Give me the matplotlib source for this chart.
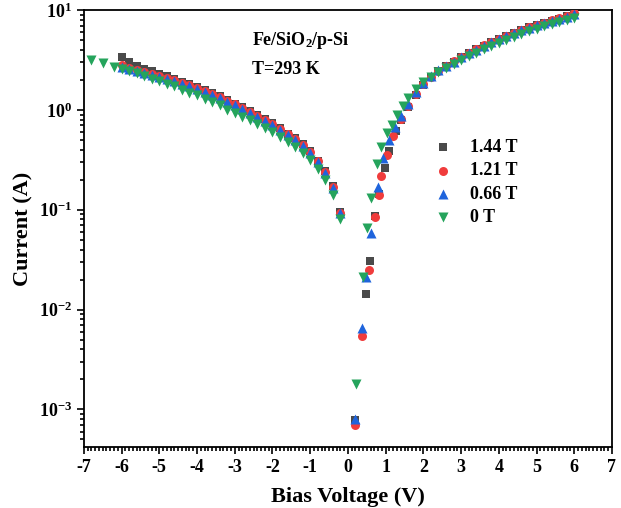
import matplotlib
matplotlib.use("Agg")
import matplotlib.pyplot as plt
from matplotlib.ticker import MultipleLocator, LogLocator, FixedLocator, FixedFormatter, NullFormatter

plt.rcParams['font.family'] = ['Liberation Serif', 'DejaVu Serif']
plt.rcParams['font.weight'] = 'bold'
plt.rcParams['mathtext.fontset'] = 'custom'
plt.rcParams['mathtext.rm'] = 'Liberation Serif:bold'
plt.rcParams['mathtext.it'] = 'Liberation Serif:bold'
plt.rcParams['mathtext.bf'] = 'Liberation Serif:bold'
plt.rcParams['axes.unicode_minus'] = False

# ---- data (V in volts, I in amperes) ----
v_144 = [-6.0, -5.8, -5.6, -5.4, -5.2, -5.0, -4.8, -4.6, -4.4, -4.2, -4.0, -3.8, -3.6, -3.4, -3.2,
         -3.0, -2.8, -2.6, -2.4, -2.2, -2.0, -1.8, -1.6, -1.4, -1.2, -1.0, -0.8, -0.6, -0.4, -0.2,
         0.2, 0.48, 0.58, 0.73, 0.82, 0.98, 1.09, 1.27,
         1.4, 1.6, 1.8, 2.0, 2.2, 2.4, 2.6, 2.8, 3.0, 3.2, 3.4, 3.6, 3.8, 4.0, 4.2, 4.4, 4.6, 4.8,
         5.0, 5.2, 5.4, 5.6, 5.8, 6.0]
i_144 = [3.40, 3.00, 2.78, 2.60, 2.45, 2.30, 2.17, 2.04, 1.92, 1.80, 1.69, 1.58, 1.48, 1.38, 1.26,
         1.16, 1.07, 0.98, 0.89, 0.81, 0.74, 0.66, 0.58, 0.52, 0.46, 0.39, 0.31, 0.245, 0.172, 0.095,
         7.8e-4, 0.0144, 0.031, 0.087, 0.145, 0.26, 0.385, 0.61,
         0.80, 1.07, 1.42, 1.78, 2.12, 2.45, 2.74, 3.05, 3.37, 3.70, 4.05, 4.42, 4.82, 5.18, 5.55, 5.94, 6.36, 6.75,
         7.12, 7.48, 7.84, 8.22, 8.70, 9.25]

v_121 = [-6.0, -5.8, -5.6, -5.4, -5.2, -5.0, -4.8, -4.6, -4.4, -4.2, -4.0, -3.8, -3.6, -3.4, -3.2,
         -3.0, -2.8, -2.6, -2.4, -2.2, -2.0, -1.8, -1.6, -1.4, -1.2, -1.0, -0.8, -0.6, -0.4, -0.2,
         0.2, 0.37, 0.56, 0.71, 0.82, 0.89, 1.03, 1.19,
         1.4, 1.6, 1.8, 2.0, 2.2, 2.4, 2.6, 2.8, 3.0, 3.2, 3.4, 3.6, 3.8, 4.0, 4.2, 4.4, 4.6, 4.8,
         5.0, 5.2, 5.4, 5.6, 5.8, 6.0]
i_121 = [2.80, 2.66, 2.52, 2.40, 2.29, 2.19, 2.09, 1.98, 1.87, 1.76, 1.66, 1.55, 1.45, 1.35, 1.23,
         1.14, 1.05, 0.96, 0.87, 0.80, 0.73, 0.65, 0.575, 0.51, 0.45, 0.38, 0.305, 0.24, 0.170, 0.092,
         7.0e-4, 0.0055, 0.025, 0.085, 0.14, 0.216, 0.35, 0.55,
         0.82, 1.10, 1.45, 1.80, 2.14, 2.47, 2.76, 3.07, 3.40, 3.73, 4.08, 4.45, 4.85, 5.20, 5.57, 5.96, 6.38, 6.78,
         7.15, 7.52, 7.88, 8.25, 8.74, 9.30]

v_066 = [-6.0, -5.8, -5.6, -5.4, -5.2, -5.0, -4.8, -4.6, -4.4, -4.2, -4.0, -3.8, -3.6, -3.4, -3.2,
         -3.0, -2.8, -2.6, -2.4, -2.2, -2.0, -1.8, -1.6, -1.4, -1.2, -1.0, -0.8, -0.6, -0.4, -0.2,
         0.2, 0.37, 0.48, 0.62, 0.79, 0.93, 1.09, 1.25,
         1.4, 1.6, 1.8, 2.0, 2.2, 2.4, 2.6, 2.8, 3.0, 3.2, 3.4, 3.6, 3.8, 4.0, 4.2, 4.4, 4.6, 4.8,
         5.0, 5.2, 5.4, 5.6, 5.8, 6.0]
i_066 = [2.69, 2.57, 2.45, 2.34, 2.24, 2.14, 2.04, 1.93, 1.82, 1.72, 1.62, 1.51, 1.41, 1.32, 1.20,
         1.11, 1.02, 0.93, 0.85, 0.78, 0.71, 0.63, 0.56, 0.50, 0.44, 0.37, 0.30, 0.234, 0.166, 0.093,
         8.0e-4, 0.0066, 0.021, 0.058, 0.17, 0.33, 0.50, 0.68,
         0.87, 1.15, 1.52, 1.88, 2.20, 2.50, 2.75, 3.05, 3.36, 3.68, 4.02, 4.40, 4.80, 5.15, 5.50, 5.89, 6.31, 6.70,
         7.05, 7.40, 7.76, 8.13, 8.60, 9.10]

v_0 = [-6.8, -6.5, -6.2, -6.0, -5.8, -5.6, -5.4, -5.2, -5.0, -4.8, -4.6, -4.4, -4.2, -4.0, -3.8, -3.6,
       -3.4, -3.2, -3.0, -2.8, -2.6, -2.4, -2.2, -2.0, -1.8, -1.6, -1.4, -1.2, -1.0, -0.8, -0.6, -0.4, -0.2,
       0.21, 0.40, 0.50, 0.60, 0.77, 0.89, 1.03, 1.16, 1.3,
       1.45, 1.6, 1.8, 2.0, 2.2, 2.4, 2.6, 2.8, 3.0, 3.2, 3.4, 3.6, 3.8, 4.0, 4.2, 4.4, 4.6, 4.8,
       5.0, 5.2, 5.4, 5.6, 5.8, 6.0]
i_0 = [3.14, 2.95, 2.72, 2.60, 2.45, 2.32, 2.18, 2.06, 1.95, 1.84, 1.72, 1.60, 1.49, 1.40, 1.30, 1.20,
       1.11, 1.01, 0.93, 0.86, 0.79, 0.72, 0.66, 0.60, 0.54, 0.48, 0.43, 0.37, 0.315, 0.255, 0.20, 0.14, 0.080,
       0.0018, 0.021, 0.066, 0.13, 0.29, 0.43, 0.59, 0.71, 0.90,
       1.10, 1.32, 1.62, 1.91, 2.14, 2.40, 2.63, 2.88, 3.16, 3.47, 3.76, 4.07, 4.42, 4.73, 5.07, 5.43, 5.82, 6.17,
       6.53, 6.92, 7.24, 7.59, 7.94, 8.41]

labels = ['1.44 T', '1.21 T', '0.66 T', '0 T']
colors = ['#4a4a4a', '#f03c3c', '#1f64dc', '#25a45c']

fig = plt.figure(figsize=(6.21, 5.08), dpi=100)
ax = fig.add_axes([0.135, 0.12, 0.8505, 0.86])

ax.scatter(v_144, i_144, marker='s', s=36, color=colors[0], linewidths=0, label=labels[0], zorder=3)
ax.scatter(v_121, i_121, marker='o', s=42, color=colors[1], linewidths=0, label=labels[1], zorder=3)
ax.scatter(v_066, i_066, marker='^', s=52, color=colors[2], linewidths=0, label=labels[2], zorder=3)
ax.scatter(v_0, i_0, marker='v', s=52, color=colors[3], linewidths=0, label=labels[3], zorder=3)

ax.set_yscale('log')
ax.set_xlim(-7, 7)
ax.set_ylim(4.2e-4, 10)

ax.xaxis.set_major_locator(MultipleLocator(1))
ax.xaxis.set_minor_locator(MultipleLocator(0.1))
ax.yaxis.set_major_locator(FixedLocator([1e-3, 1e-2, 1e-1, 1, 10]))
ax.yaxis.set_major_formatter(FixedFormatter(['10$^{-3}$', '10$^{-2}$', '10$^{-1}$', '10$^{0}$', '10$^{1}$']))
ax.yaxis.set_minor_locator(LogLocator(base=10, subs=range(2, 10), numticks=20))
ax.yaxis.set_minor_formatter(NullFormatter())

ax.tick_params(which='both', direction='out', top=False, right=False, labelsize=13, width=1.2)
ax.tick_params(which='major', length=5)
ax.tick_params(which='minor', length=3)
for sp in ax.spines.values():
    sp.set_linewidth(1.3)

ax.set_xlabel('Bias Voltage (V)', fontsize=16, fontweight='bold', labelpad=8)
ax.set_ylabel('Current (A)', fontsize=16, fontweight='bold', labelpad=4)

ax.text(0.318, 0.93, 'Fe/SiO$_2$/p-Si', transform=ax.transAxes, fontsize=13, fontweight='bold', va='center')
ax.text(0.318, 0.865, 'T=293 K', transform=ax.transAxes, fontsize=13, fontweight='bold', va='center')

ax.legend(loc='upper left', bbox_to_anchor=(0.645, 0.705), frameon=False, fontsize=13,
          scatterpoints=1, handletextpad=0.5, labelspacing=0.35, borderpad=0, borderaxespad=0)

fig.savefig('out.png', dpi=100)
